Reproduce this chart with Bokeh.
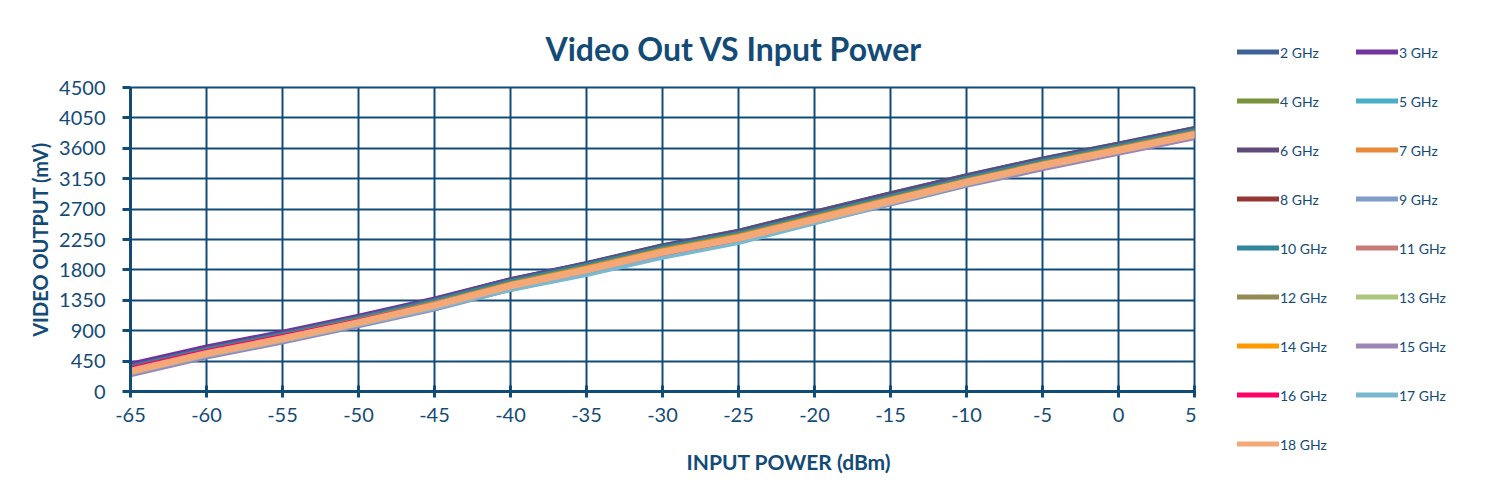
from bokeh.plotting import figure
from bokeh.layouts import row
from bokeh.models import FixedTicker, Legend, LegendItem, Title, ColumnDataSource, Range1d
from bokeh.embed import file_html
from bokeh.resources import INLINE

# ---------------- data ----------------
input_power = [-65, -60, -55, -50, -45, -40, -35, -30, -25, -20, -15, -10, -5, 0, 5]

series_names = ["2 GHz", "3 GHz", "4 GHz", "5 GHz", "6 GHz", "7 GHz", "8 GHz", "9 GHz", "10 GHz",
                "11 GHz", "12 GHz", "13 GHz", "14 GHz", "15 GHz", "16 GHz", "17 GHz", "18 GHz"]

v_2 = [385, 645, 870, 1115, 1370, 1665, 1905, 2170, 2385, 2665, 2940, 3205, 3455, 3675, 3905]
v_3 = [415, 670, 890, 1125, 1380, 1665, 1900, 2155, 2360, 2635, 2905, 3175, 3420, 3645, 3870]
v_4 = [365, 625, 845, 1085, 1340, 1630, 1870, 2130, 2340, 2615, 2890, 3160, 3410, 3635, 3865]
v_5 = [285, 545, 765, 1000, 1250, 1530, 1760, 2015, 2230, 2515, 2800, 3080, 3330, 3560, 3795]
v_6 = [375, 640, 865, 1105, 1365, 1660, 1900, 2165, 2380, 2660, 2935, 3200, 3450, 3670, 3900]
v_7 = [335, 595, 815, 1055, 1310, 1600, 1840, 2100, 2310, 2585, 2860, 3130, 3380, 3605, 3835]
v_8 = [355, 615, 835, 1075, 1330, 1620, 1860, 2120, 2330, 2605, 2880, 3150, 3400, 3625, 3855]
v_9 = [305, 565, 785, 1025, 1280, 1570, 1810, 2070, 2280, 2555, 2830, 3100, 3350, 3575, 3805]
v_10 = [375, 635, 855, 1095, 1350, 1640, 1880, 2140, 2350, 2625, 2900, 3170, 3420, 3645, 3875]
v_11 = [325, 585, 805, 1045, 1300, 1590, 1830, 2090, 2300, 2575, 2850, 3120, 3370, 3595, 3825]
v_12 = [345, 605, 825, 1065, 1320, 1610, 1850, 2110, 2320, 2595, 2870, 3140, 3390, 3615, 3845]
v_13 = [315, 575, 795, 1035, 1290, 1580, 1820, 2080, 2290, 2565, 2840, 3110, 3360, 3585, 3815]
v_14 = [330, 590, 810, 1050, 1305, 1595, 1835, 2095, 2305, 2580, 2855, 3125, 3375, 3600, 3830]
v_15 = [235, 500, 720, 960, 1210, 1500, 1745, 2005, 2215, 2490, 2765, 3040, 3285, 3515, 3745]
v_16 = [350, 605, 825, 1055, 1300, 1580, 1800, 2040, 2240, 2510, 2790, 3070, 3330, 3565, 3805]
v_17 = [265, 525, 745, 980, 1225, 1500, 1720, 1975, 2195, 2485, 2780, 3060, 3315, 3545, 3780]
v_18 = [300, 560, 780, 1020, 1275, 1565, 1800, 2060, 2270, 2545, 2820, 3095, 3345, 3570, 3800]

series_values = [v_2, v_3, v_4, v_5, v_6, v_7, v_8, v_9, v_10,
                 v_11, v_12, v_13, v_14, v_15, v_16, v_17, v_18]

series_colors = ["#3F6296", "#7232A0", "#77933C", "#4BACC6", "#604A7B", "#E8883A", "#953735",
                 "#7F9CC8", "#31859C", "#C87A78", "#948A54", "#ABC57F", "#FF9900", "#9B86B4",
                 "#FF0066", "#7AB8D0", "#F5A877"]

x_ticks = [-65, -60, -55, -50, -45, -40, -35, -30, -25, -20, -15, -10, -5, 0, 5]
y_ticks = [0, 450, 900, 1350, 1800, 2250, 2700, 3150, 3600, 4050, 4500]

# ---------------- styling ----------------
NAVY = "#134B77"
FONT = "Lato"

p = figure(width=1196, height=480, x_range=(-65, 5), y_range=(0, 4500),
           output_backend="svg", toolbar_location=None,
           min_border_left=130, min_border_right=2, min_border_top=87, min_border_bottom=89)

p.background_fill_color = "white"
p.border_fill_color = "white"
p.outline_line_color = NAVY
p.outline_line_width = 2

p.xaxis.ticker = FixedTicker(ticks=x_ticks)
p.yaxis.ticker = FixedTicker(ticks=y_ticks)
p.xgrid.ticker = FixedTicker(ticks=x_ticks)
p.ygrid.ticker = FixedTicker(ticks=y_ticks)
p.xaxis.major_label_overrides = {t: str(t) for t in x_ticks}
for g in (p.xgrid, p.ygrid):
    g.grid_line_color = NAVY
    g.grid_line_width = 2
    g.grid_line_alpha = 1.0

for ax in (p.xaxis, p.yaxis):
    ax.axis_line_color = NAVY
    ax.axis_line_width = 3
    ax.major_tick_line_color = NAVY
    ax.major_tick_line_width = 3
    ax.minor_tick_line_color = None
    ax.major_label_text_color = NAVY
    ax.major_label_text_font = FONT
    ax.major_label_text_font_size = "20px"

p.xaxis.major_tick_in = 6
p.xaxis.major_tick_out = 6
p.xaxis.major_label_standoff = 10
p.yaxis.major_tick_in = 0
p.yaxis.major_tick_out = 8
p.yaxis.major_label_standoff = 17

p.yaxis.axis_label = "VIDEO OUTPUT (mV)"
p.yaxis.axis_label_text_font = FONT
p.yaxis.axis_label_text_font_style = "bold"
p.yaxis.axis_label_text_font_size = "20px"
p.yaxis.axis_label_text_color = NAVY
p.yaxis.axis_label_standoff = 4

# ---------------- lines ----------------
for name, vals, col in zip(series_names, series_values, series_colors):
    src = ColumnDataSource(dict(x=input_power, y=vals))
    w = 7 if name == "18 GHz" else 3.5
    p.line("x", "y", source=src, line_color=col, line_width=w,
           line_join="round", line_cap="round")

# ---------------- title (above) ----------------
p.add_layout(Title(text=" ", text_font_size="3px"), "above")
p.add_layout(Title(text="Video Out VS Input Power", align="left", offset=415,
                   text_font=FONT, text_font_style="bold", text_font_size="32px",
                   text_color=NAVY), "above")

# ---------------- x-axis title (below, shifted right) ----------------
p.add_layout(Title(text=" ", text_font_size="4px"), "below")
p.add_layout(Title(text="INPUT POWER (dBm)", align="left", offset=556,
                   text_font=FONT, text_font_style="bold", text_font_size="21px",
                   text_color=NAVY), "below")

# ---------------- legend panel (separate figure to the right) ----------------
lg = figure(width=274, height=480, x_range=Range1d(0, 1), y_range=Range1d(0, 1),
            output_backend="svg", toolbar_location=None,
            x_axis_type=None, y_axis_type=None,
            min_border_left=0, min_border_right=0, min_border_top=0, min_border_bottom=0)
lg.outline_line_color = None
lg.xgrid.visible = False
lg.ygrid.visible = False
lg.background_fill_color = "white"
lg.border_fill_color = "white"

nan = float("nan")
swatch = {}
for name, col in zip(series_names, series_colors):
    swatch[name] = lg.line(x=[nan], y=[nan], line_color=col, line_width=5, line_cap="round")

# vertical legend fills column by column -> left column: 2,4,...,18 ; right column: 3,5,...,17
order = series_names[0::2] + series_names[1::2]
items = [LegendItem(label=n, renderers=[swatch[n]]) for n in order]

legend = Legend(items=items, orientation="vertical", nrows=9, ncols=2,
                location="left", title=" ", title_text_font_size="8px", title_standoff=8,
                glyph_width=42, glyph_height=20, label_height=20,
                label_standoff=1, spacing=29, padding=0, margin=41,
                label_text_font=FONT, label_text_font_size="14px",
                label_text_color=NAVY, border_line_color=None,
                background_fill_alpha=0)
lg.add_layout(legend, "left")

layout = row(p, lg, spacing=0)
open("out.html", "w").write(file_html(layout, INLINE))
